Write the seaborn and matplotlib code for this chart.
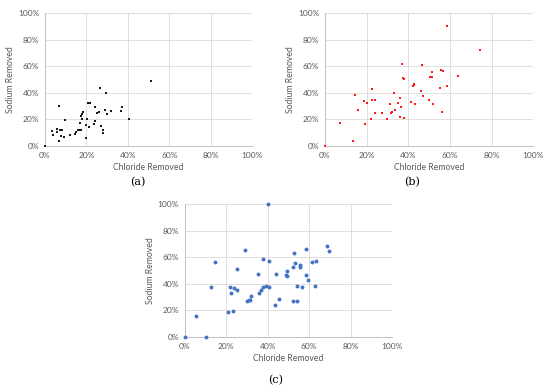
import numpy as np
import matplotlib.pyplot as plt
import matplotlib as mpl
import pandas as pd
import seaborn as sns
from matplotlib.ticker import MultipleLocator, PercentFormatter

# Values (percent removed)
a_chloride = [0, 3.5, 3.7, 5.6, 5.9, 6.9, 6.9, 7.1, 7.6, 8.4, 9.3, 9.6, 12.1, 14.5, 14.8,
              15.9, 16.6, 17.0, 17.2, 17.2, 17.7, 18.2, 17.7, 19.6, 19.6, 20.4, 20.6, 21.1,
              21.4, 21.7, 23.8, 24.1, 24.3, 24.9, 25.9, 26.5, 26.8, 28.1, 28.1, 28.8, 29.4,
              30.1, 32.0, 36.8, 37.3, 40.5, 51.1]
a_sodium = [0, 11.3, 8.3, 12.8, 10.3, 30.2, 3.5, 12.1, 7.3, 12.1, 7.0, 19.6, 8.5, 9.3, 10.3,
            12.1, 12.1, 17.1, 12.1, 22.6, 24.1, 25.4, 20.1, 15.8, 6.3, 20.1, 32.7, 32.2,
            14.6, 32.4, 16.3, 18.8, 29.6, 24.6, 25.4, 43.5, 14.8, 12.1, 9.5, 26.9, 39.7,
            24.1, 26.1, 26.4, 29.1, 20.6, 49.2]

b_chloride = [0, 7.2, 13.3, 14.4, 15.9, 18.8, 19.0, 20.1, 22.2, 22.8, 22.8, 23.8, 23.8, 27.3,
              30.0, 31.3, 31.5, 32.3, 33.0, 33.7, 35.2, 36.0, 36.1, 36.5, 37.1, 37.5, 38.0,
              38.0, 41.2, 42.2, 42.5, 42.7, 43.0, 45.9, 46.5, 47.2, 49.9, 50.6, 51.2, 51.4,
              52.0, 55.2, 55.7, 56.0, 56.6, 58.6, 58.7, 63.9, 74.2]
b_sodium = [0, 17.5, 3.5, 38.5, 27.3, 33.8, 16.3, 32.5, 20.5, 43.3, 34.5, 35.0, 25.0, 25.0,
            20.5, 31.5, 25.0, 25.5, 40.3, 27.3, 32.3, 36.3, 22.0, 29.5, 62.0, 51.0, 50.3,
            20.8, 32.8, 45.0, 47.0, 46.0, 31.5, 41.5, 61.0, 37.8, 34.8, 52.0, 51.8, 55.8,
            31.5, 44.0, 57.5, 25.3, 56.3, 90.5, 45.0, 52.8, 72.3]

c_chloride = [0, 5.4, 10.2, 12.5, 14.4, 20.8, 21.8, 22.2, 23.7, 23.4, 25.4, 25.4, 29.3, 30.1,
              30.9, 31.7, 32.2, 35.4, 35.7, 37.0, 37.6, 37.9, 39.0, 40.2, 40.5, 40.6, 43.7,
              44.2, 45.6, 49.0, 49.3, 49.4, 52.5, 52.3, 52.2, 53.4, 54.1, 54.1, 55.4, 55.5,
              56.5, 58.6, 58.4, 59.5, 61.4, 62.9, 63.2, 68.6, 69.8]
c_sodium = [0, 15.5, 0, 37.3, 56.3, 18.5, 37.5, 32.8, 36.5, 19.3, 51.3, 35.3, 65.5, 27.0,
            27.8, 27.8, 31.0, 47.3, 33.0, 35.3, 59.0, 37.3, 38.0, 99.8, 56.8, 37.3, 24.0,
            47.3, 28.5, 46.8, 49.5, 45.8, 63.3, 52.5, 27.3, 56.0, 38.3, 27.3, 54.0, 52.5,
            37.3, 66.5, 46.3, 42.5, 56.3, 38.5, 57.5, 68.5, 64.8]

panels = [
    ('(a)', a_chloride, a_sodium, '#1a1a1a', 's', 4),
    ('(b)', b_chloride, b_sodium, '#ff1a1a', 's', 4),
    ('(c)', c_chloride, c_sodium, '#4472c4', 'o', 8),
]

sns.set_style('white')
plt.rcParams['font.family'] = ['Lato', 'DejaVu Sans']

fig = plt.figure(figsize=(5.5, 3.92), dpi=100)
axes_pos = [[0.0818, 0.6276, 0.3769, 0.3384],
            [0.5909, 0.6276, 0.3788, 0.3384],
            [0.3358, 0.1403, 0.3770, 0.3393]]
caption_pos = [(0.251, 0.535), (0.749, 0.535), (0.502, 0.03)]

text_gray = '#595959'
for (label, x, y, color, marker, size), pos, cpos in zip(panels, axes_pos, caption_pos):
    ax = fig.add_axes(pos)
    df = pd.DataFrame({'Chloride Removed': x, 'Sodium Removed': y})
    sns.scatterplot(data=df, x='Chloride Removed', y='Sodium Removed', ax=ax,
                    color=color, marker=marker, s=size, linewidth=0, clip_on=False,
                    zorder=3)
    ax.set_xlim(0, 100)
    ax.set_ylim(0, 100)
    ax.xaxis.set_major_locator(MultipleLocator(20))
    ax.yaxis.set_major_locator(MultipleLocator(20))
    ax.xaxis.set_minor_locator(MultipleLocator(10))
    ax.yaxis.set_minor_locator(MultipleLocator(10))
    ax.xaxis.set_major_formatter(PercentFormatter(decimals=0))
    ax.yaxis.set_major_formatter(PercentFormatter(decimals=0))
    ax.grid(True, which='major', color='#d9d9d9', linewidth=0.6)
    ax.set_axisbelow(True)
    for side in ['top', 'right']:
        ax.spines[side].set_visible(False)
    for side in ['left', 'bottom']:
        ax.spines[side].set_color('#bfbfbf')
        ax.spines[side].set_linewidth(0.7)
    ax.tick_params(which='both', direction='out', length=2, width=0.5,
                   color='#bfbfbf', labelsize=6, labelcolor=text_gray, pad=2)
    ax.set_xlabel('Chloride Removed', fontsize=6.2, color=text_gray, labelpad=3)
    ax.set_ylabel('Sodium Removed', fontsize=6.2, color=text_gray, labelpad=2)
    fig.text(cpos[0], cpos[1], label, ha='center', va='center', fontsize=8,
             family='DejaVu Serif', color='black')

plt.savefig('out.png', dpi=100)
